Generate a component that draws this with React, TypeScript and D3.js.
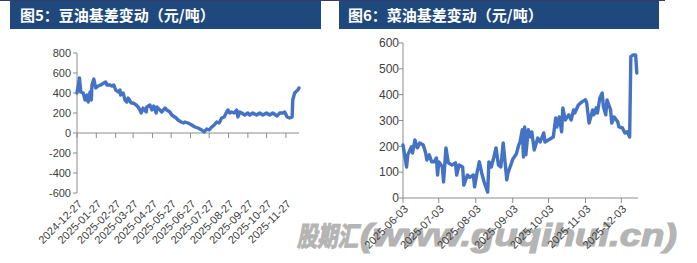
import React from "react";
import * as d3 from "d3";

// ---- 图5 豆油基差 ----
const soyDates = [
  "2024-12-27","2024-12-31","2025-01-02","2025-01-06","2025-01-09","2025-01-12","2025-01-14","2025-01-17","2025-01-19","2025-01-20",
  "2025-01-23","2025-01-26","2025-01-30","2025-02-03","2025-02-08","2025-02-11","2025-02-13","2025-02-18","2025-02-21","2025-02-24",
  "2025-02-27","2025-03-03","2025-03-06","2025-03-07","2025-03-11","2025-03-14","2025-03-17","2025-03-19","2025-03-24","2025-03-27",
  "2025-04-01","2025-04-04","2025-04-07","2025-04-09","2025-04-12","2025-04-17","2025-04-18","2025-04-23","2025-04-26","2025-04-29",
  "2025-05-03","2025-05-04","2025-05-09","2025-05-12","2025-05-17","2025-05-20","2025-05-25","2025-05-28","2025-06-04","2025-06-07",
  "2025-06-12","2025-06-16","2025-06-18","2025-06-23","2025-06-29","2025-07-04","2025-07-09","2025-07-15","2025-07-19","2025-07-23",
  "2025-07-27","2025-07-31","2025-08-04","2025-08-08","2025-08-12","2025-08-16","2025-08-20","2025-08-24","2025-08-26","2025-08-29",
  "2025-09-01","2025-09-05","2025-09-09","2025-09-11","2025-09-14","2025-09-17","2025-09-22","2025-09-27","2025-09-30","2025-10-05",
  "2025-10-11","2025-10-16","2025-10-21","2025-10-27","2025-11-01","2025-11-06","2025-11-13","2025-11-17","2025-11-22","2025-11-25",
  "2025-11-29","2025-12-03","2025-12-07","2025-12-08","2025-12-11","2025-12-16","2025-12-18"
];
const soyValues = [
  400, 550, 410, 400, 330, 380, 310, 410, 330, 480,
  540, 450, 470, 480, 500, 510, 480, 480, 470, 480,
  430, 410, 430, 380, 400, 330, 310, 350, 300, 300,
  280, 260, 230, 200, 250, 210, 260, 280, 230, 270,
  200, 260, 230, 210, 250, 230, 210, 180, 150, 130,
  110, 100, 110, 100, 80, 60, 50, 30, 10, 40,
  30, 60, 80, 110, 100, 150, 160, 210, 230, 200,
  210, 200, 230, 160, 210, 200, 180, 200, 180, 200,
  180, 200, 180, 200, 180, 200, 170, 200, 200, 210,
  160, 150, 160, 330, 400, 430, 450
];
const soyTicks = [
  "2024-12-27","2025-01-27","2025-02-27","2025-03-27","2025-04-27","2025-05-27",
  "2025-06-27","2025-07-27","2025-08-27","2025-09-27","2025-10-27","2025-11-27"
];
const soyYTicks = [800, 600, 400, 200, 0, -200, -400, -600];

// ---- 图6 菜油基差 ----
const rapeDates = [
  "2025-06-03","2025-06-06","2025-06-07","2025-06-10","2025-06-11","2025-06-13","2025-06-15","2025-06-17","2025-06-20","2025-06-22",
  "2025-06-23","2025-06-25","2025-06-27","2025-06-29","2025-07-01","2025-07-02","2025-07-03","2025-07-06","2025-07-07","2025-07-09",
  "2025-07-11","2025-07-14","2025-07-17","2025-07-18","2025-07-20","2025-07-23","2025-07-24","2025-07-27","2025-07-29","2025-08-01",
  "2025-08-02","2025-08-04","2025-08-06","2025-08-08","2025-08-10","2025-08-13","2025-08-14","2025-08-16","2025-08-18","2025-08-20",
  "2025-08-22","2025-08-24","2025-08-26","2025-08-29","2025-08-30","2025-09-02","2025-09-03","2025-09-06","2025-09-08","2025-09-09",
  "2025-09-11","2025-09-12","2025-09-13","2025-09-14","2025-09-16","2025-09-18","2025-09-19","2025-09-21","2025-09-24","2025-09-26",
  "2025-09-29","2025-09-30","2025-10-07","2025-10-09","2025-10-10","2025-10-12","2025-10-14","2025-10-15","2025-10-17","2025-10-20",
  "2025-10-22","2025-10-24","2025-10-25","2025-10-28","2025-10-31","2025-11-03","2025-11-04","2025-11-06","2025-11-09","2025-11-10",
  "2025-11-12","2025-11-13","2025-11-15","2025-11-17","2025-11-18","2025-11-20","2025-11-21","2025-11-24","2025-11-25","2025-11-27",
  "2025-11-30","2025-12-01","2025-12-04","2025-12-06","2025-12-08","2025-12-10","2025-12-11","2025-12-13","2025-12-15","2025-12-16"
];
const rapeValues = [
  205, 120, 167, 198, 174, 225, 194, 213, 205, 174,
  147, 167, 140, 140, 155, 89, 140, 120, 62, 194,
  136, 128, 136, 89, 128, 120, 50, 89, 80, 89,
  43, 97, 140, 97, 62, 23, 140, 120, 155, 194,
  128, 120, 213, 70, 97, 136, 150, 170, 205, 215,
  264, 159, 275, 167, 264, 236, 256, 186, 232, 217,
  252, 217, 236, 310, 275, 314, 256, 349, 302, 322,
  302, 341, 329, 360, 372, 380, 368, 290, 341, 322,
  349, 329, 387, 406, 353, 322, 380, 341, 290, 314,
  295, 275, 271, 252, 256, 236, 547, 554, 554, 484
];
const rapeTicks = ["2025-06-03","2025-07-03","2025-08-03","2025-09-03","2025-10-03","2025-11-03","2025-12-03"];
const rapeYTicks = [600, 500, 400, 300, 200, 100, 0];

const titles = ["图5：豆油基差变动（元/吨）", "图6：菜油基差变动（元/吨）"];

const parse = d3.timeParse("%Y-%m-%d");
const LINE = "#4472C4";
const AXIS = "#8c8c8c";
const TXT = "#404040";
const FONT = "'Liberation Sans', Arial, sans-serif";

type PanelProps = {
  dates: string[]; values: number[]; ticks: string[]; yTicks: number[];
  xDomainEnd: string; xRange: [number, number];
  yDomain: [number, number]; yRange: [number, number];
  yFont: number; xFont: number; yLabelGap: number;
};

function Panel(p: PanelProps) {
  const x = d3.scaleTime()
    .domain([parse(p.dates[0]) as Date, parse(p.xDomainEnd) as Date])
    .range(p.xRange);
  const y = d3.scaleLinear().domain(p.yDomain).range(p.yRange);
  const data = p.dates.map((d, i) => ({ d: parse(d) as Date, v: p.values[i] }));
  const line = d3.line<{ d: Date; v: number }>().x(e => x(e.d)).y(e => y(e.v));
  const x0 = p.xRange[0];
  const zeroY = y(0);
  const bottom = y(p.yDomain[0]);
  return (
    <g>
      <line x1={x0} x2={x0} y1={y(p.yDomain[1])} y2={bottom} stroke={AXIS} strokeWidth={1} />
      {p.yTicks.map(t => (
        <g key={t}>
          <line x1={x0 - 4} x2={x0} y1={y(t)} y2={y(t)} stroke={AXIS} />
          <text x={x0 - p.yLabelGap} y={y(t)} dy="0.35em" textAnchor="end"
            fontSize={p.yFont} fontFamily={FONT} fill={TXT}>{t}</text>
        </g>
      ))}
      <line x1={x0} x2={p.xRange[1]} y1={zeroY} y2={zeroY} stroke={AXIS} />
      {p.ticks.map(t => {
        const tx = x(parse(t) as Date);
        return (
          <g key={t}>
            <line x1={tx} x2={tx} y1={zeroY} y2={zeroY + 5} stroke={AXIS} />
            <text transform={`translate(${tx + 3},${bottom + 9}) rotate(-45)`} dy="0.35em"
              textAnchor="end" fontSize={p.xFont} fontFamily={FONT} fill={TXT}>{t}</text>
          </g>
        );
      })}
      <path d={line(data) || ""} fill="none" stroke={LINE} strokeWidth={3.4}
        strokeLinejoin="round" strokeLinecap="round" />
    </g>
  );
}

export default function App() {
  return (
    <svg width={697} height={263} style={{ position: "absolute", left: 0, top: 0, background: "#fff" }}>
      <rect x={0} y={0} width={697} height={263} fill="#fff" />
      <line x1={0} x2={665} y1={0.5} y2={0.5} stroke="#353b6b" />
      <rect x={10} y={1} width={311} height={28} fill="#1F497D" />
      <rect x={339} y={1} width={320} height={28} fill="#1F497D" />
      <text x={20} y={21} fill="#fff" fontSize={15} fontWeight="bold"
        fontFamily="'Noto Sans CJK SC', sans-serif">{titles[0]}</text>
      <text x={348} y={21} fill="#fff" fontSize={15} fontWeight="bold"
        fontFamily="'Noto Sans CJK SC', sans-serif">{titles[1]}</text>

      <g fill="#b4b4b4" stroke="#b4b4b4" strokeWidth={1.2} fontWeight="bold" fontStyle="italic">
        <text x={297} y={246} fontSize={27} fontFamily="'Noto Sans CJK SC', sans-serif"
          textLength={61} lengthAdjust="spacingAndGlyphs">股期汇</text>
        <text x={360} y={246} fontSize={31} fontFamily={FONT}
          textLength={317} lengthAdjust="spacingAndGlyphs">(www.guqihui.cn)</text>
      </g>

      <Panel dates={soyDates} values={soyValues} ticks={soyTicks} yTicks={soyYTicks}
        xDomainEnd="2025-12-18" xRange={[77, 299]} yDomain={[-600, 800]} yRange={[193, 53]}
        yFont={11} xFont={11} yLabelGap={6} />
      <Panel dates={rapeDates} values={rapeValues} ticks={rapeTicks} yTicks={rapeYTicks}
        xDomainEnd="2025-12-17" xRange={[403, 638]} yDomain={[0, 600]} yRange={[198, 43]}
        yFont={12} xFont={11} yLabelGap={4} />
    </svg>
  );
}
